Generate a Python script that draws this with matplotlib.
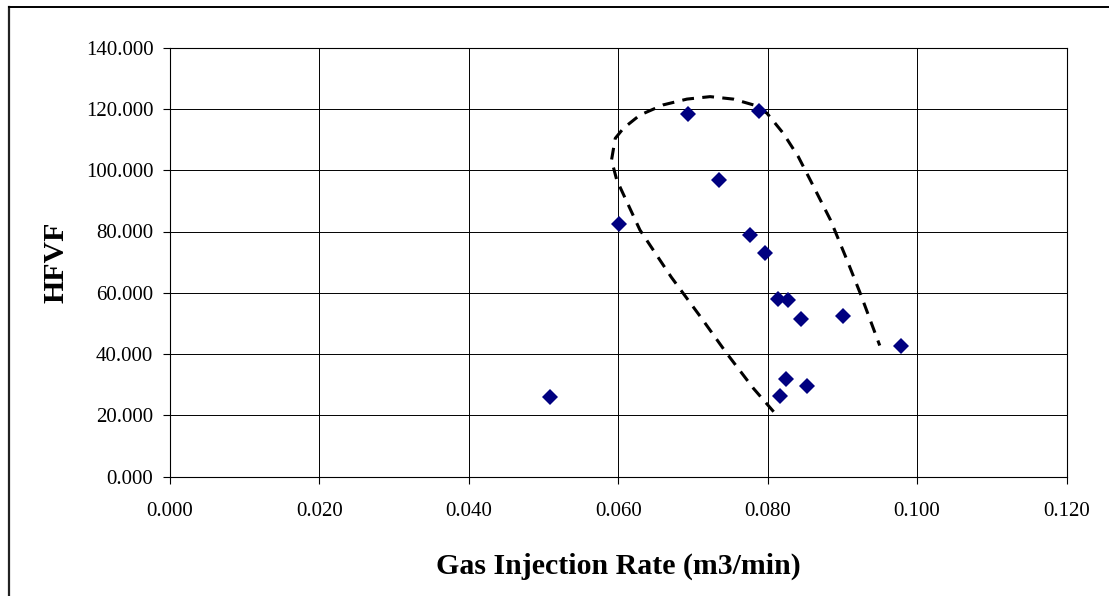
import matplotlib
matplotlib.use("Agg")
import matplotlib.pyplot as plt
from matplotlib.lines import Line2D

plt.rcParams['font.family'] = ['Liberation Serif', 'DejaVu Serif']
plt.rcParams['lines.scale_dashes'] = False

# Data
gas_rate = [0.0694, 0.0788, 0.0735, 0.0601, 0.0777, 0.0796, 0.0814, 0.0827,
            0.0845, 0.0901, 0.0979, 0.0824, 0.0852, 0.0816, 0.0508]
hfvf = [118.3, 119.4, 96.8, 82.3, 78.8, 73.1, 58.1, 57.6,
        51.3, 52.5, 42.7, 31.8, 29.7, 26.3, 25.9]

# Hand-drawn dashed envelope
env_x = [0.0808, 0.0781, 0.0745, 0.0710, 0.0671, 0.0629, 0.0598, 0.0591, 0.0596,
         0.0607, 0.0629, 0.0660, 0.0692, 0.0723, 0.0754, 0.0781, 0.0799, 0.0821,
         0.0841, 0.0857, 0.0884, 0.0906, 0.0924, 0.0950]
env_y = [21.2, 28.8, 40.3, 52.2, 65.1, 80.5, 96.8, 103.3, 110.4,
         113.7, 118.0, 121.3, 123.2, 124.0, 123.2, 121.3, 118.6, 112.0,
         104.4, 96.8, 83.8, 70.8, 59.8, 42.8]

x_ticks = [0.0, 0.02, 0.04, 0.06, 0.08, 0.10, 0.12]
y_ticks = [0, 20, 40, 60, 80, 100, 120, 140]

W, H = 1109, 596
fig = plt.figure(figsize=(W / 100, H / 100), dpi=100)
ax = fig.add_axes([170 / W, 1 - 476.7 / H, (1066.5 - 170) / W, (476.7 - 47.6) / H])

ax.set_xlim(0, 0.12)
ax.set_ylim(0, 140)
ax.set_xticks(x_ticks)
ax.set_yticks(y_ticks)
ax.set_xticklabels([f"{v:.3f}" for v in x_ticks])
ax.set_yticklabels([f"{v:.3f}" for v in y_ticks])
ax.grid(True, color='black', linewidth=0.7)
ax.set_axisbelow(True)
for s in ax.spines.values():
    s.set_color('black')
    s.set_linewidth(0.8)
ax.tick_params(axis='both', direction='out', length=5, width=0.8, labelsize=15,
               colors='black')
ax.tick_params(axis='y', pad=7)
ax.tick_params(axis='x', pad=13)

ax.plot(env_x, env_y, color='black', linewidth=2.2, dashes=(8.5, 6),
        zorder=3)
ax.plot(gas_rate, hfvf, linestyle='none', marker='D', markersize=8.5,
        color='#000080', markeredgewidth=0, zorder=4)

ax.set_xlabel('Gas Injection Rate (m3/min)', fontsize=21.5, fontweight='bold',
              labelpad=23)
ax.set_ylabel('HFVF', fontsize=21.5, fontweight='bold', labelpad=12)

# Outer chart border (left and top only visible)
fig.add_artist(Line2D([8.7 / W, 8.7 / W], [0, 1 - 7 / H], transform=fig.transFigure,
                      color='#222222', linewidth=1.6))
fig.add_artist(Line2D([8.7 / W, 1], [1 - 7 / H, 1 - 7 / H], transform=fig.transFigure,
                      color='black', linewidth=1.4))

fig.savefig('out.png', dpi=100)
